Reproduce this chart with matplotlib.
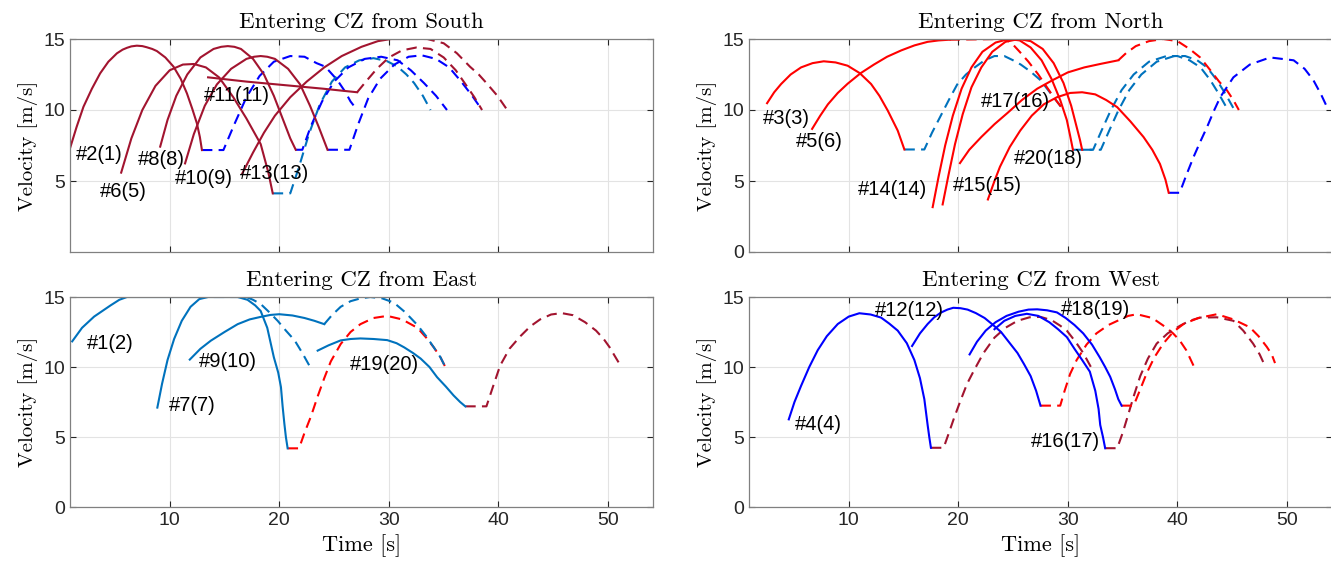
import matplotlib
matplotlib.use("Agg")
import matplotlib.pyplot as plt

# ----------------------------------------------------------------------
# Velocity profiles (time [s], velocity [m/s]).
# "solid" = inside the panel's approach, "dash" = continuation.
# ----------------------------------------------------------------------

# --- Entering from South ---
veh2_solid = [(0.9, 7.3), (1.5, 8.8), (2.13, 10.23), (2.9, 11.5), (3.65, 12.58), (4.4, 13.4), (5.18, 13.99), (5.7, 14.25), (6.1, 14.38), (6.5, 14.48), (7.0, 14.53), (7.5, 14.5), (7.9, 14.42), (8.4, 14.3), (8.83, 14.15), (9.6, 13.7), (10.35, 13.05), (11.0, 12.2), (11.57, 11.17), (12.05, 10.1), (12.48, 9.06), (12.75, 8.1), (12.94, 7.18)]
veh2_dash = [(12.94, 7.18), (14.9, 7.18), (15.9, 9.0), (17.0, 10.9), (18.2, 12.4), (19.5, 13.4), (21.0, 13.8), (22.3, 13.75), (23.4, 13.3), (24.2, 13.05), (25.3, 12.1), (26.0, 11.3), (26.5, 10.6), (27.1, 10.0)]
veh6_solid = [(5.57, 5.59), (6.5, 8.0), (7.5, 10.0), (8.7, 11.7), (10.0, 12.8), (11.2, 13.2), (12.2, 13.24), (13.3, 13.0), (14.5, 12.3), (15.8, 10.9), (17.0, 9.4), (18.3, 7.6), (19.0, 5.6), (19.4, 4.13)]
veh6_dash = [(19.4, 4.13), (21.0, 4.13), (21.8, 6.0), (22.7, 8.3), (23.7, 10.4), (24.8, 12.0), (26.0, 13.0), (27.3, 13.5), (28.6, 13.65), (29.8, 13.45), (30.8, 13.05), (31.6, 12.5), (32.3, 11.9), (33.1, 11.0), (33.8, 10.0)]
veh8_solid = [(9.13, 7.42), (9.8, 9.3), (10.6, 11.0), (11.6, 12.5), (12.8, 13.7), (14.0, 14.3), (14.7, 14.45), (15.3, 14.5), (15.9, 14.45), (16.5, 14.3), (17.6, 13.6), (18.6, 12.5), (19.5, 11.0), (20.3, 9.4), (21.0, 8.0), (21.5, 7.2)]
veh8_dash = [(21.5, 7.2), (22.1, 7.2), (22.9, 8.9), (23.9, 10.6), (25.0, 12.0), (26.3, 13.0), (27.8, 13.6), (29.3, 13.75), (30.8, 13.5), (32.0, 12.8), (33.2, 11.9), (34.3, 11.0), (35.3, 10.0)]
veh10_solid = [(11.4, 6.24), (12.2, 8.3), (13.2, 10.3), (14.3, 11.8), (15.6, 12.9), (17.0, 13.6), (17.7, 13.75), (18.3, 13.8), (18.9, 13.75), (19.6, 13.6), (20.8, 12.9), (21.9, 11.8), (22.8, 10.3), (23.6, 8.8), (24.4, 7.2)]
veh10_dash = [(24.4, 7.2), (26.4, 7.2), (27.2, 9.0), (28.1, 10.8), (29.2, 12.2), (30.5, 13.2), (31.8, 13.75), (33.0, 13.85), (34.3, 13.6), (35.5, 13.0), (36.6, 12.0), (37.6, 11.0), (38.5, 10.0)]
veh11_solid = [(13.5, 12.3), (17.0, 12.0), (20.5, 11.75), (24.0, 11.5), (27.1, 11.25)]
veh11_dash = [(27.1, 11.25), (27.9, 12.0), (28.9, 12.9), (30.0, 13.7), (31.2, 14.2), (32.5, 14.4), (33.8, 14.3), (35.0, 13.7), (36.1, 12.8), (37.0, 11.8), (37.8, 10.9), (38.5, 10.0)]
veh13_solid = [(16.6, 5.5), (17.6, 7.0), (18.6, 8.4), (19.6, 9.6), (21.0, 10.9), (22.5, 12.0), (24.1, 13.0), (25.7, 13.8), (27.5, 14.45), (29.0, 14.85), (30.2, 15.0)]
veh13_dash = [(30.2, 15.0), (33.5, 15.0), (35.0, 14.7), (36.2, 14.0), (37.4, 13.05), (38.2, 12.5), (38.9, 11.9), (39.9, 11.0), (40.8, 10.0)]

# --- Entering from North ---
veh3_solid = [(2.55, 10.48), (3.2, 11.25), (3.83, 11.83), (4.7, 12.5), (5.65, 13.0), (6.7, 13.3), (7.72, 13.43), (8.8, 13.35), (9.9, 13.12), (11.0, 12.6), (12.04, 11.83), (12.8, 11.0), (13.56, 9.96), (14.47, 8.55), (15.08, 7.22)]
veh3_dash = [(15.08, 7.22), (16.9, 7.22), (17.6, 8.4), (18.4, 9.6), (19.2, 10.8), (19.9, 11.8), (20.7, 12.5), (21.5, 13.0), (22.4, 13.5), (23.3, 13.8), (24.2, 13.8), (25.0, 13.5), (25.7, 13.2), (26.6, 12.7), (27.5, 12.1), (28.2, 11.4), (28.9, 10.7), (29.6, 10.0)]
veh5_solid = [(6.66, 8.67), (7.4, 9.6), (8.1, 10.4), (9.0, 11.2), (9.9, 11.85), (11.1, 12.6), (12.3, 13.2), (13.5, 13.75), (14.8, 14.2), (16.0, 14.55), (17.2, 14.8), (18.2, 14.9), (19.2, 14.95)]
veh5_dash = [(19.2, 14.95), (24.3, 15.0), (25.0, 14.6), (25.6, 14.1), (26.4, 13.4), (27.3, 12.5), (28.0, 11.7), (28.8, 10.8), (29.6, 10.0)]
veh14_solid = [(17.66, 3.16), (18.2, 5.3), (18.8, 7.5), (19.5, 9.6), (20.3, 11.5), (21.2, 13.0), (22.2, 14.1), (23.4, 14.75), (24.6, 15.0), (25.6, 14.9), (26.6, 14.4), (27.6, 13.5), (28.5, 12.2), (29.3, 10.7), (29.9, 9.3), (30.2, 8.2), (30.46, 7.2)]
veh14_dash = [(30.46, 7.2), (32.3, 7.2), (33.1, 8.6), (33.9, 9.96), (34.9, 11.4), (36.0, 12.5), (37.4, 13.4), (39.0, 13.8), (40.0, 13.8), (41.1, 13.5), (42.1, 13.0), (43.0, 12.1), (43.8, 11.1), (44.6, 10.0)]
veh15_solid = [(18.57, 3.35), (19.1, 5.4), (19.7, 7.6), (20.4, 9.7), (21.2, 11.6), (22.1, 13.0), (23.1, 14.1), (24.3, 14.8), (25.5, 15.0), (26.6, 14.85), (27.7, 14.3), (28.7, 13.3), (29.6, 11.9), (30.3, 10.3), (30.8, 8.8), (31.1, 7.9), (31.3, 7.2)]
veh15_dash = [(31.3, 7.2), (33.0, 7.2), (33.8, 8.6), (34.6, 9.96), (35.6, 11.4), (36.7, 12.5), (38.1, 13.4), (39.7, 13.8), (40.7, 13.8), (41.8, 13.5), (42.7, 13.0), (43.6, 12.1), (44.4, 11.1), (45.2, 10.0)]
veh17_solid = [(20.15, 6.26), (21.0, 7.2), (22.1, 8.1), (23.3, 9.0), (24.5, 9.8), (25.8, 10.7), (27.2, 11.5), (28.6, 12.1), (30.0, 12.65), (31.5, 13.0), (33.0, 13.25), (34.6, 13.5)]
veh17_dash = [(34.6, 13.5), (35.3, 14.0), (36.2, 14.5), (37.4, 14.85), (38.7, 15.0), (40.0, 14.85), (41.1, 14.3), (42.07, 13.7), (43.0, 12.8), (43.8, 12.0), (44.5, 11.4), (45.1, 10.7), (45.6, 10.0)]
veh20_solid = [(22.7, 3.7), (23.3, 5.0), (23.8, 6.0), (24.7, 7.4), (25.65, 8.55), (26.7, 9.6), (27.8, 10.4), (29.0, 10.9), (30.2, 11.2), (31.3, 11.25), (32.5, 11.1), (33.5, 10.7), (34.5, 10.2), (35.7, 9.2), (36.9, 8.1), (37.7, 7.2), (38.4, 6.2), (38.9, 5.1), (39.2, 4.17)]
veh20_dash = [(39.2, 4.17), (40.2, 4.17), (40.8, 5.4), (41.46, 6.68), (42.1, 7.8), (42.7, 8.8), (43.3, 9.9), (43.9, 10.9), (45.1, 12.3), (46.6, 13.2), (48.45, 13.7), (50.6, 13.5), (51.6, 12.9), (52.4, 12.1), (53.1, 11.1), (53.77, 10.0)]

# --- Entering from East ---
veh1_solid = [(1.1, 11.83), (2.0, 12.8), (3.1, 13.6), (4.6, 14.4), (5.4, 14.8), (6.1, 15.0), (12.5, 15.0)]
veh1_dash = [(12.5, 15.0), (17.0, 15.0), (17.6, 14.8), (18.3, 14.5), (19.1, 13.9), (19.85, 13.3), (20.6, 12.6), (21.4, 11.9), (22.1, 11.0), (22.74, 10.1)]
veh7_solid = [(8.87, 7.1), (9.3, 8.8), (9.8, 10.5), (10.4, 12.0), (11.1, 13.3), (11.9, 14.3), (12.7, 14.85), (13.5, 15.0), (16.2, 15.0), (17.1, 14.8), (17.8, 14.4), (18.3, 14.0), (18.9, 12.8), (19.5, 10.7), (19.9, 9.6), (20.15, 8.56), (20.3, 7.2), (20.46, 5.96), (20.6, 5.0), (20.76, 4.19)]
veh7_dash = [(20.76, 4.19), (21.8, 4.19), (22.3, 5.3), (22.9, 6.5), (23.5, 7.9), (24.1, 9.2), (24.7, 10.4), (25.6, 11.64), (26.5, 12.5), (27.4, 13.06), (28.6, 13.5), (29.85, 13.65), (31.2, 13.4), (32.6, 12.8), (33.4, 12.1), (34.1, 11.4), (34.7, 10.7), (35.15, 10.0)]
veh9_solid = [(11.83, 10.53), (12.8, 11.3), (13.75, 11.88), (15.0, 12.5), (16.2, 13.06), (17.3, 13.4), (18.3, 13.58), (19.2, 13.72), (20.0, 13.77), (21.2, 13.68), (22.3, 13.5), (23.2, 13.3), (24.1, 13.06)]
veh9_dash = [(24.1, 13.06), (24.8, 13.7), (25.6, 14.3), (26.5, 14.7), (27.4, 14.9), (28.3, 15.0), (29.4, 14.9), (30.45, 14.6), (31.5, 13.9), (32.6, 13.0), (33.4, 12.2), (34.1, 11.4), (34.7, 10.7), (35.15, 10.0)]
veh19_solid = [(23.5, 11.17), (24.5, 11.55), (25.6, 11.9), (26.5, 12.0), (27.4, 12.04), (28.6, 12.0), (29.85, 11.92), (30.7, 11.7), (31.4, 11.4), (32.2, 11.0), (32.9, 10.6), (33.7, 10.0), (34.4, 9.27), (35.2, 8.6), (35.9, 7.97), (36.5, 7.5), (36.97, 7.19)]
veh19_dash = [(36.97, 7.19), (38.9, 7.19), (39.5, 8.6), (40.15, 10.1), (41.0, 11.3), (42.0, 12.2), (42.9, 12.9), (43.8, 13.4), (44.8, 13.75), (45.76, 13.85), (46.8, 13.7), (47.9, 13.2), (48.9, 12.6), (49.6, 12.0), (50.15, 11.4), (50.6, 10.8), (51.06, 10.2)]

# --- Entering from West ---
veh4_solid = [(4.53, 6.26), (5.05, 7.5), (5.65, 8.65), (6.4, 10.0), (7.17, 11.2), (8.0, 12.2), (9.0, 13.07), (10.0, 13.6), (10.97, 13.84), (12.0, 13.75), (12.95, 13.53), (13.7, 13.1), (14.47, 12.6), (15.3, 11.7), (15.99, 10.5), (16.5, 9.2), (16.9, 7.7), (17.2, 5.86), (17.35, 5.0), (17.5, 4.23)]
veh4_dash = [(17.5, 4.23), (18.66, 4.23), (19.1, 5.2), (19.6, 6.33), (20.2, 7.6), (20.8, 8.8), (21.46, 9.8), (22.3, 11.0), (23.3, 12.1), (24.3, 12.8), (25.4, 13.3), (26.5, 13.55), (27.5, 13.58), (28.5, 13.35), (29.3, 12.95), (29.9, 12.6), (30.7, 11.8), (31.4, 11.0), (32.1, 10.0)]
veh12_solid = [(15.78, 11.5), (16.5, 12.4), (17.2, 13.07), (17.8, 13.55), (18.4, 13.88), (19.0, 14.1), (19.54, 14.23), (20.2, 14.2), (20.85, 14.1), (21.6, 13.85), (22.4, 13.5), (23.1, 13.05), (23.9, 12.5), (24.6, 11.8), (25.4, 11.0), (26.0, 10.2), (26.6, 9.35), (27.1, 8.3), (27.5, 7.24)]
veh12_dash = [(27.5, 7.24), (29.3, 7.24), (29.7, 8.3), (30.2, 9.5), (30.8, 10.5), (31.7, 11.6), (32.6, 12.4), (33.7, 13.0), (34.8, 13.4), (35.5, 13.65), (36.3, 13.77), (37.7, 13.5), (39.0, 12.8), (39.6, 12.4), (40.2, 11.9), (40.8, 11.2), (41.46, 10.1)]
veh16_solid = [(23.3, 12.7), (24.2, 13.3), (25.2, 13.65), (26.26, 13.8), (27.3, 13.65), (28.3, 13.2), (29.1, 12.7), (29.9, 12.14), (30.6, 11.3), (31.3, 10.5), (32.0, 9.67), (32.5, 8.3), (32.8, 7.0), (32.95, 5.86), (33.2, 5.0), (33.4, 4.2)]
veh16_dash = [(33.4, 4.2), (34.5, 4.2), (35.0, 5.3), (35.4, 6.33), (36.0, 7.9), (36.6, 9.35), (37.3, 10.6), (38.1, 11.67), (39.1, 12.4), (40.24, 12.95), (41.1, 13.3), (42.07, 13.53), (43.6, 13.55), (45.1, 13.3), (46.0, 12.6), (46.9, 11.67), (47.5, 10.9), (48.0, 10.05)]
veh18_solid = [(21.03, 10.9), (21.7, 11.8), (22.5, 12.6), (23.4, 13.2), (24.4, 13.65), (25.5, 13.95), (26.4, 14.1), (27.2, 14.12), (28.1, 14.05), (29.0, 13.9), (29.8, 13.5), (30.6, 13.0), (31.4, 12.4), (32.2, 11.6), (32.9, 10.7), (33.4, 10.0), (33.86, 9.3), (34.3, 8.4), (34.6, 7.7), (34.9, 7.24)]
veh18_dash = [(34.9, 7.24), (36.0, 7.24), (36.6, 8.4), (37.2, 9.58), (37.9, 10.7), (38.7, 11.67), (39.6, 12.5), (40.55, 13.07), (41.9, 13.5), (43.6, 13.77), (45.1, 13.4), (46.6, 12.84), (47.4, 12.2), (48.15, 11.44), (48.6, 10.9), (48.9, 10.28)]

# MATLAB default colours used in the figure
DARKRED = "#A2142F"
RED = "#FF0000"
LIGHTBLUE = "#0072BD"
BLUE = "#0000FF"

# (title, solid colour, [(label, solid, dash, dash colour, label position)])
panels = [
    ("Entering CZ from South", DARKRED, [
        ("#2(1)", veh2_solid, veh2_dash, BLUE, (1.4, 6.9)),
        ("#6(5)", veh6_solid, veh6_dash, LIGHTBLUE, (3.65, 4.25)),
        ("#8(8)", veh8_solid, veh8_dash, BLUE, (7.05, 6.5)),
        ("#10(9)", veh10_solid, veh10_dash, BLUE, (10.5, 5.2)),
        ("#11(11)", veh11_solid, veh11_dash, DARKRED, (13.1, 11.0)),
        ("#13(13)", veh13_solid, veh13_dash, DARKRED, (16.4, 5.55)),
    ]),
    ("Entering CZ from North", RED, [
        ("#3(3)", veh3_solid, veh3_dash, LIGHTBLUE, (2.15, 9.4)),
        ("#5(6)", veh5_solid, veh5_dash, RED, (5.2, 7.75)),
        ("#14(14)", veh14_solid, veh14_dash, LIGHTBLUE, (10.8, 4.4)),
        ("#15(15)", veh15_solid, veh15_dash, LIGHTBLUE, (19.5, 4.7)),
        ("#17(16)", veh17_solid, veh17_dash, RED, (22.1, 10.6)),
        ("#20(18)", veh20_solid, veh20_dash, BLUE, (25.05, 6.55)),
    ]),
    ("Entering CZ from East", LIGHTBLUE, [
        ("#1(2)", veh1_solid, veh1_dash, LIGHTBLUE, (2.4, 11.7)),
        ("#7(7)", veh7_solid, veh7_dash, RED, (9.95, 7.25)),
        ("#9(10)", veh9_solid, veh9_dash, LIGHTBLUE, (12.7, 10.4)),
        ("#19(20)", veh19_solid, veh19_dash, DARKRED, (26.45, 10.2)),
    ]),
    ("Entering CZ from West", BLUE, [
        ("#4(4)", veh4_solid, veh4_dash, DARKRED, (5.05, 5.9)),
        ("#12(12)", veh12_solid, veh12_dash, RED, (12.35, 14.0)),
        ("#16(17)", veh16_solid, veh16_dash, DARKRED, (26.6, 4.7)),
        ("#18(19)", veh18_solid, veh18_dash, RED, (29.4, 14.1)),
    ]),
]

# axes rectangles in figure fractions (matches the 1331x563 layout)
W, H = 1331, 563
rects = [
    (70 / W, 1 - 252 / H, 583 / W, 213 / H),
    (749 / W, 1 - 252 / H, 583 / W, 213 / H),
    (70 / W, 1 - 507 / H, 583 / W, 210 / H),
    (749 / W, 1 - 507 / H, 583 / W, 210 / H),
]

serif = "cmr10"
sans = "Liberation Sans"

fig = plt.figure(figsize=(W / 100, H / 100), dpi=100)

for i, ((title, solid_color, vehicles), rect) in enumerate(zip(panels, rects)):
    ax = fig.add_axes(rect)
    for label, solid, dash, dash_color, (lx, ly) in vehicles:
        ax.plot([p[0] for p in dash], [p[1] for p in dash], color=dash_color,
                lw=1.5, dashes=(5, 3))
        ax.plot([p[0] for p in solid], [p[1] for p in solid],
                color=solid_color, lw=1.5)
        ax.text(lx, ly, label, fontsize=14.5, family=sans, va="center",
                ha="left", color="black")

    ax.set_xlim(0.9, 54.1)
    ax.set_ylim(0, 15)
    ax.set_xticks([10, 20, 30, 40, 50])
    if i == 0:
        ax.set_yticks([5, 10, 15])
    else:
        ax.set_yticks([0, 5, 10, 15])
    ax.grid(True, color="#e3e3e3", lw=0.8)
    ax.set_axisbelow(True)
    ax.tick_params(direction="in", length=4, colors="#262626",
                   labelsize=14, top=True, right=True, width=0.8)
    for lbl in ax.get_xticklabels() + ax.get_yticklabels():
        lbl.set_family(sans)
    for s in ax.spines.values():
        s.set_color("#808080")
        s.set_linewidth(0.9)
    if i < 2:
        ax.tick_params(labelbottom=False)
    else:
        ax.set_xlabel("Time [s]", fontsize=16, family=serif, labelpad=4)
    ax.set_ylabel("Velocity [m/s]", fontsize=15, family=serif, labelpad=4)
    ax.set_title(title, fontsize=16.5, family=serif, pad=8)

fig.savefig("out.png", dpi=100)
